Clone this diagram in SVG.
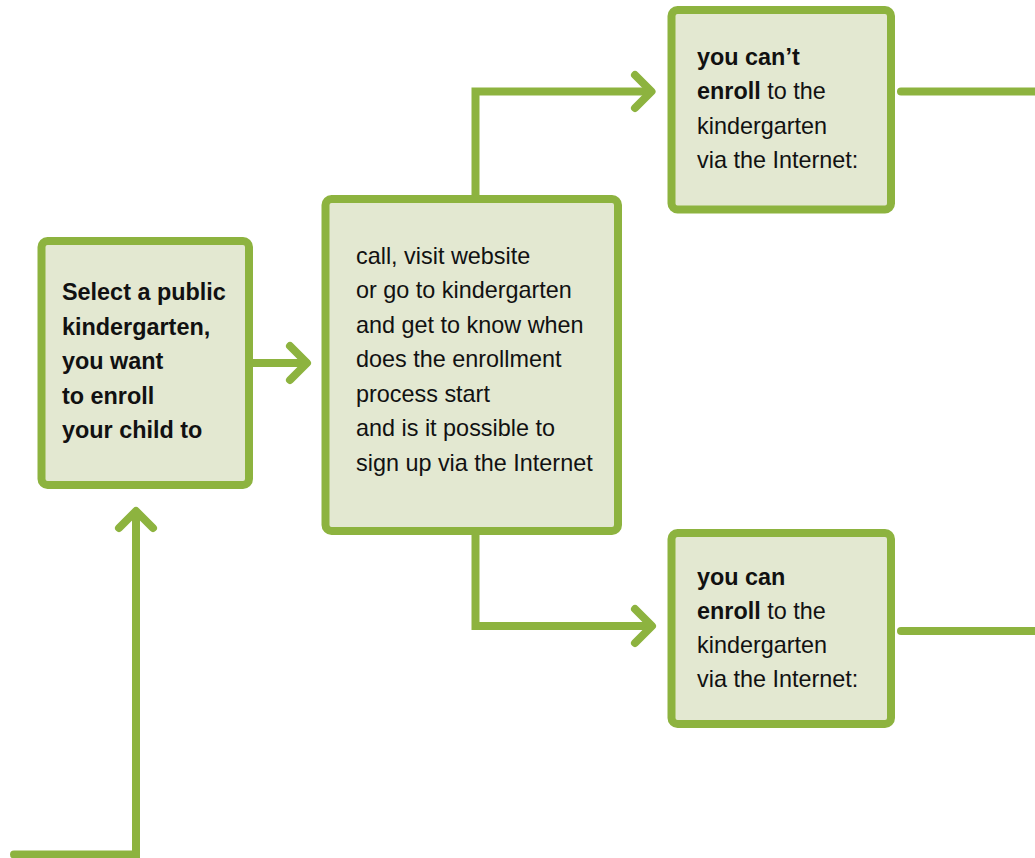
<svg xmlns="http://www.w3.org/2000/svg" width="1035" height="858" viewBox="0 0 1035 858">
  <style>
    .box { fill: #e3e8d1; stroke: #8db33f; stroke-width: 8; }
    .link { fill: none; stroke: #8db33f; stroke-width: 8; stroke-linecap: round; stroke-linejoin: round; }
    .corner { stroke-linejoin: miter; }
    text { font-family: "Liberation Sans", Arial, Helvetica, sans-serif; font-size: 23.4px; fill: #111; }
    .b { font-weight: bold; }
  </style>
  <rect width="1035" height="858" fill="#ffffff"/>

  <!-- connectors -->
  <g id="connectors">
    <!-- incoming line from the previous step -->
    <path class="link corner" d="M 14 854.5 H 136 V 513"/>
    <path class="link" d="M 119 528 L 136 511 L 153 528"/>
    <!-- select -> inquire -->
    <path class="link" d="M 252 363 H 306"/>
    <path class="link" d="M 290 346 L 307 363 L 290 380"/>
    <!-- inquire -> can't enroll online -->
    <path class="link corner" d="M 475.5 199 V 91.5 H 650"/>
    <path class="link" d="M 635 75 L 651.5 91.5 L 635 108"/>
    <!-- inquire -> can enroll online -->
    <path class="link corner" d="M 475.5 531 V 626 H 650"/>
    <path class="link" d="M 635 609 L 652 626 L 635 643"/>
    <!-- outgoing lines -->
    <path class="link" d="M 901 91.5 H 1045"/>
    <path class="link" d="M 901 631 H 1045"/>
  </g>

  <g id="node-select">
    <rect class="box" x="41.5" y="241" width="207.5" height="244" rx="6"/>
    <text class="b" x="62">
      <tspan x="62" y="300">Select a public</tspan>
      <tspan x="62" y="334.6">kindergarten,</tspan>
      <tspan x="62" y="369.2">you want</tspan>
      <tspan x="62" y="403.8">to enroll</tspan>
      <tspan x="62" y="438.4">your child to</tspan>
    </text>
  </g>

  <g id="node-inquire">
    <rect class="box" x="325.5" y="199" width="292.5" height="332" rx="6"/>
    <text x="356">
      <tspan x="356" y="263.5">call, visit website</tspan>
      <tspan x="356" y="298">or go to kindergarten</tspan>
      <tspan x="356" y="332.5">and get to know when</tspan>
      <tspan x="356" y="367">does the enrollment</tspan>
      <tspan x="356" y="401.5">process start</tspan>
      <tspan x="356" y="436">and is it possible to</tspan>
      <tspan x="356" y="470.5">sign up via the Internet</tspan>
    </text>
  </g>

  <g id="node-cannot-enroll">
    <rect class="box" x="671.5" y="10" width="219.5" height="199.5" rx="6"/>
    <text x="697">
      <tspan x="697" y="65" class="b">you can’t</tspan>
      <tspan x="697" y="99.3"><tspan class="b">enroll</tspan> to the</tspan>
      <tspan x="697" y="133.6">kindergarten</tspan>
      <tspan x="697" y="167.9">via the Internet:</tspan>
    </text>
  </g>

  <g id="node-can-enroll">
    <rect class="box" x="671.5" y="533" width="219.5" height="191" rx="6"/>
    <text x="697">
      <tspan x="697" y="585" class="b">you can</tspan>
      <tspan x="697" y="619"><tspan class="b">enroll</tspan> to the</tspan>
      <tspan x="697" y="653">kindergarten</tspan>
      <tspan x="697" y="687">via the Internet:</tspan>
    </text>
  </g>
</svg>
